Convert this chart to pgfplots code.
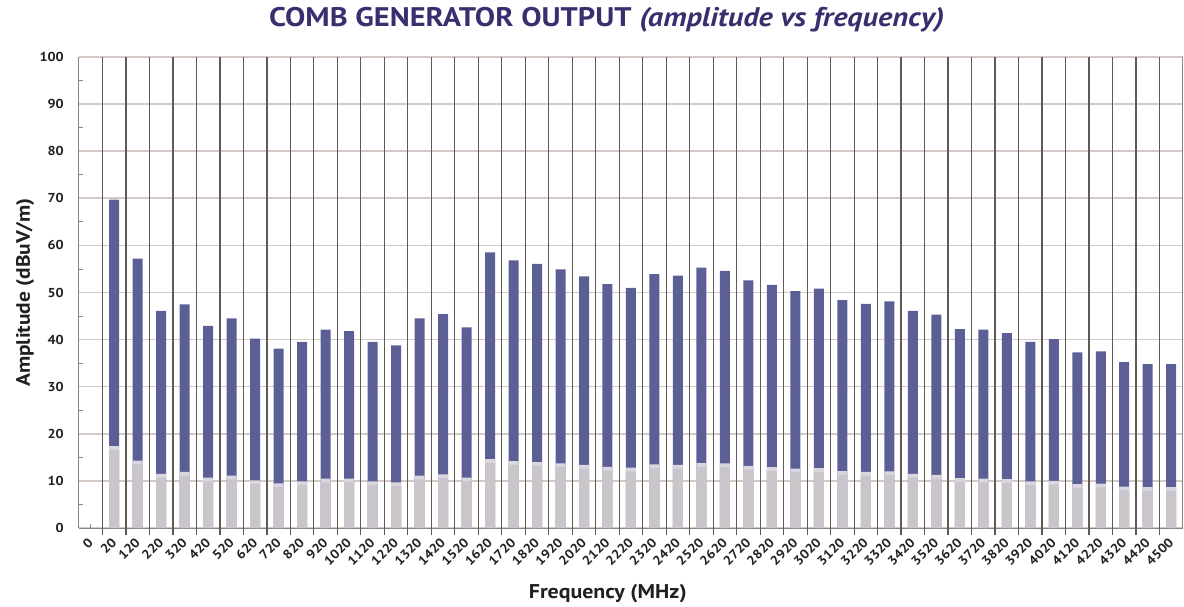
\documentclass[border=0pt]{standalone}
\usepackage{fontspec}
\setmainfont{PT Sans}[FakeStretch=1.1]
\newfontfamily\titlefont{PT Sans}[FakeStretch=1.13]
\usepackage{pgfplots}
\pgfplotsset{compat=1.18}
\definecolor{barblue}{HTML}{5C5F96}
\definecolor{bargray}{HTML}{C9C5CB}
\definecolor{barlight}{HTML}{D9D6DF}
\definecolor{titlecol}{HTML}{3A2F6E}
\definecolor{hgrid}{HTML}{D3C9C5}
\definecolor{vgrid}{HTML}{5F5A58}
\definecolor{axcol}{HTML}{8C827E}
\definecolor{txt}{HTML}{231F20}
% x = category index, y = bar top, t = top of light band, g = top of solid grey part
\pgfplotstableread{
x y t g
1 69.7 17.4 16.6
2 57.2 14.3 13.5
3 46.1 11.5 10.7
4 47.5 11.9 11.1
5 42.9 10.7 9.9
6 44.5 11.1 10.3
7 40.2 10.1 9.3
8 38.1 9.5 8.7
9 39.5 9.9 9.1
10 42.1 10.5 9.7
11 41.8 10.5 9.7
12 39.5 9.9 9.1
13 38.8 9.7 8.9
14 44.5 11.1 10.3
15 45.4 11.4 10.6
16 42.6 10.7 9.9
17 58.5 14.6 13.8
18 56.8 14.2 13.4
19 56.1 14.0 13.2
20 54.9 13.7 12.9
21 53.4 13.4 12.6
22 51.8 13.0 12.2
23 51.0 12.8 12.0
24 53.9 13.5 12.7
25 53.6 13.4 12.6
26 55.3 13.8 13.0
27 54.6 13.7 12.9
28 52.6 13.2 12.4
29 51.6 12.9 12.1
30 50.3 12.6 11.8
31 50.8 12.7 11.9
32 48.4 12.1 11.3
33 47.6 11.9 11.1
34 48.1 12.0 11.2
35 46.1 11.5 10.7
36 45.3 11.3 10.5
37 42.2 10.6 9.8
38 42.1 10.5 9.7
39 41.4 10.4 9.6
40 39.5 9.9 9.1
41 40.1 10.0 9.2
42 37.3 9.3 8.5
43 37.5 9.4 8.6
44 35.2 8.8 8.0
45 34.8 8.7 7.9
46 34.8 8.7 7.9
}\combdata
\begin{document}
\begin{tikzpicture}
\begin{axis}[
  at={(0,0)}, anchor=south west,
  scale only axis, width=1104bp, height=471bp,
  xmin=-0.5, xmax=46.5, ymin=0, ymax=100,
  enlargelimits=false,
  axis x line*=bottom, axis y line*=box,
  axis line style={color=axcol, line width=1bp},
  ytick pos=left,
  xtick={0,...,46},
  xticklabels={0,20,120,220,320,420,520,620,720,820,920,1020,1120,1220,1320,1420,1520,1620,1720,1820,1920,2020,2120,2220,2320,2420,2520,2620,2720,2820,2920,3020,3120,3220,3320,3420,3520,3620,3720,3820,3920,4020,4120,4220,4320,4420,4500},
  ytick={0,10,...,100},
  minor y tick num=1,
  tick align=inside,
  major tick length=4bp, minor tick length=4bp,
  major x tick style={color=axcol, line width=0.8bp},
  major y tick style={draw=none},
  minor y tick style={color=axcol, line width=0.8bp},
  ymajorgrids=true,
  major grid style={color=hgrid, line width=1.6bp},
  extra x ticks={0.5,1.5,...,45.5},
  extra x tick labels={},
  extra x tick style={grid=major, tick align=outside, major tick length=7bp,
    major grid style={color=vgrid, line width=1.2bp}, major x tick style={color=vgrid, line width=1.2bp}},
  /pgf/number format/assume math mode=true,
  yticklabel style={font=\bfseries\fontsize{13}{15}\selectfont, text=txt, inner sep=0pt},
  yticklabel shift=15bp,
  xticklabel style={font=\bfseries\fontsize{13}{14}\selectfont, text=txt, rotate=45, anchor=east, inner sep=0pt},
  xticklabel shift=12bp,
  xlabel={Frequency (MHz)},
  xlabel style={at={(axis description cs:0.479,0)}, anchor=base, yshift=-70bp, font=\bfseries\fontsize{20}{22}\selectfont, text=txt},
  ylabel={Amplitude (dBuV/m)},
  ylabel style={at={(axis description cs:-0.0444,0.5)}, anchor=base, font=\bfseries\fontsize{19.5}{22}\selectfont, text=txt},
  title={\titlefont\bfseries COMB GENERATOR OUTPUT \textit{(amplitude vs frequency)}},
  title style={at={(axis description cs:0.478,1)}, anchor=base, yshift=25bp, font=\fontsize{27}{30}\selectfont, text=titlecol},
]
\addplot[ybar, bar width=10bp, bar shift=0pt, draw=none, fill=barblue] table[x=x, y=y] {\combdata};
\addplot[ybar, bar width=10bp, bar shift=0pt, draw=none, fill=barlight] table[x=x, y=t] {\combdata};
\addplot[ybar, bar width=10bp, bar shift=0pt, draw=none, fill=bargray] table[x=x, y=g] {\combdata};
\end{axis}
\pgfresetboundingbox
\path[use as bounding box] (-79bp,-79bp) rectangle (1105bp,528bp);
\end{tikzpicture}
\end{document}
